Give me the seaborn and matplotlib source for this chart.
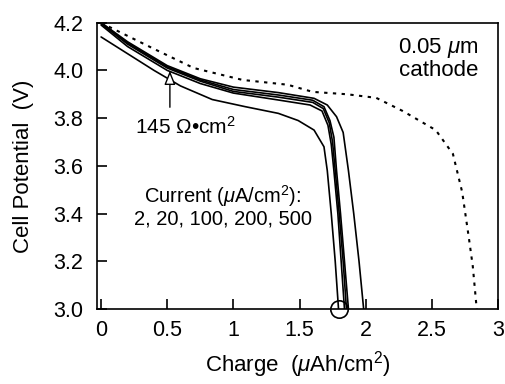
import numpy as np
import pandas as pd
import matplotlib
matplotlib.use("Agg")
import matplotlib.pyplot as plt
import seaborn as sns

# discharge curves (charge in uAh/cm2, potential in V)
q_2 = [0, 0.2, 0.5, 0.75, 1.0, 1.34, 1.61, 1.71, 1.78, 1.83, 1.87, 1.91, 1.95, 1.985]
v_2 = [4.2, 4.12, 4.02, 3.965, 3.93, 3.907, 3.883, 3.855, 3.806, 3.74, 3.58, 3.4, 3.2, 3.0]

q_20 = [0, 0.2, 0.5, 0.75, 1.0, 1.34, 1.6, 1.685, 1.73, 1.76, 1.78, 1.81, 1.84, 1.87]
v_20 = [4.2, 4.115, 4.015, 3.96, 3.92, 3.897, 3.875, 3.848, 3.79, 3.72, 3.58, 3.4, 3.2, 3.0]

q_100 = [0, 0.2, 0.5, 0.75, 1.0, 1.34, 1.6, 1.68, 1.725, 1.75, 1.77, 1.8, 1.83, 1.855]
v_100 = [4.195, 4.11, 4.01, 3.955, 3.912, 3.888, 3.866, 3.84, 3.78, 3.7, 3.58, 3.4, 3.2, 3.0]

q_200 = [0, 0.2, 0.5, 0.75, 1.0, 1.34, 1.58, 1.67, 1.715, 1.74, 1.76, 1.79, 1.815, 1.84]
v_200 = [4.19, 4.1, 4.0, 3.945, 3.905, 3.876, 3.855, 3.83, 3.77, 3.69, 3.58, 3.4, 3.2, 3.0]

q_500 = [0, 0.2, 0.4, 0.6, 0.84, 1.09, 1.34, 1.49, 1.61, 1.685, 1.71, 1.74, 1.77, 1.795]
v_500 = [4.14, 4.07, 4.0, 3.935, 3.878, 3.848, 3.82, 3.79, 3.75, 3.68, 3.58, 3.4, 3.2, 3.0]

# dotted reference curve
q_ref = [0, 0.07, 0.4, 0.7, 1.07, 1.41, 1.6, 1.86, 2.08, 2.28, 2.53, 2.66, 2.73, 2.78, 2.81, 2.84]
v_ref = [4.2, 4.18, 4.09, 4.01, 3.96, 3.94, 3.91, 3.9, 3.885, 3.83, 3.75, 3.65, 3.49, 3.3, 3.18, 3.0]

x_ticks = [0, 0.5, 1, 1.5, 2, 2.5, 3]
x_ticklabels = ["0", "0.5", "1", "1.5", "2", "2.5", "3"]
y_ticks = [3.0, 3.2, 3.4, 3.6, 3.8, 4.0, 4.2]
y_ticklabels = ["3.0", "3.2", "3.4", "3.6", "3.8", "4.0", "4.2"]

sns.set_theme(style="ticks")
plt.rcParams["font.family"] = ["Liberation Sans", "DejaVu Sans"]
plt.rcParams["mathtext.fontset"] = "custom"
plt.rcParams["mathtext.rm"] = "Liberation Sans"
plt.rcParams["mathtext.it"] = "Liberation Sans:italic"
plt.rcParams["text.color"] = "black"
plt.rcParams["axes.labelcolor"] = "black"

fig = plt.figure(figsize=(5.06, 3.84), dpi=100)
ax = fig.add_axes([0.192, 0.195, 0.792, 0.746])

for q, v in [(q_2, v_2), (q_20, v_20), (q_100, v_100), (q_200, v_200), (q_500, v_500)]:
    sns.lineplot(x=q, y=v, sort=False, estimator=None, color="black", lw=1.2, ax=ax)

sns.lineplot(x=q_ref, y=v_ref, sort=False, estimator=None, color="black", lw=1.5,
             linestyle=(0, (1.6, 2.6)), ax=ax)

# circle marking the end of discharge
ax.plot([1.797], [3.0], marker="o", ms=12.5, mfc="none", mec="black", mew=1.2, clip_on=False)

ax.annotate("", xy=(0.52, 4.01), xytext=(0.52, 3.834),
            arrowprops=dict(arrowstyle="-|>,head_length=0.7,head_width=0.28",
                            fc="white", ec="black", lw=1.0))
ax.text(0.635, 3.763, "145 \u03a9\u2022cm$^2$", ha="center", va="center", fontsize=15)
ax.text(0.92, 3.434, "Current ($\\mu$A/cm$^2$):\n2, 20, 100, 200, 500",
        ha="center", va="center", fontsize=14.5, linespacing=1.05)
ax.text(2.55, 4.05, "0.05 $\\mu$m\ncathode", ha="center", va="center", fontsize=16,
        linespacing=0.95)

ax.set_xlim(-0.03, 3.0)
ax.set_ylim(3.0, 4.2)
ax.set_xticks(x_ticks)
ax.set_xticklabels(x_ticklabels)
ax.set_yticks(y_ticks)
ax.set_yticklabels(y_ticklabels)
ax.tick_params(direction="in", length=7, width=1.2, labelsize=15.5, colors="black")
ax.tick_params(axis="y", pad=10)
ax.tick_params(axis="x", pad=8)
for s in ax.spines.values():
    s.set_visible(True)
    s.set_linewidth(1.2)
    s.set_color("black")

ax.set_xlabel("Charge  ($\\mu$Ah/cm$^2$)", fontsize=16, labelpad=6)
ax.set_ylabel("Cell Potential  (V)", fontsize=16, labelpad=14)

fig.savefig("out.png", dpi=100)
